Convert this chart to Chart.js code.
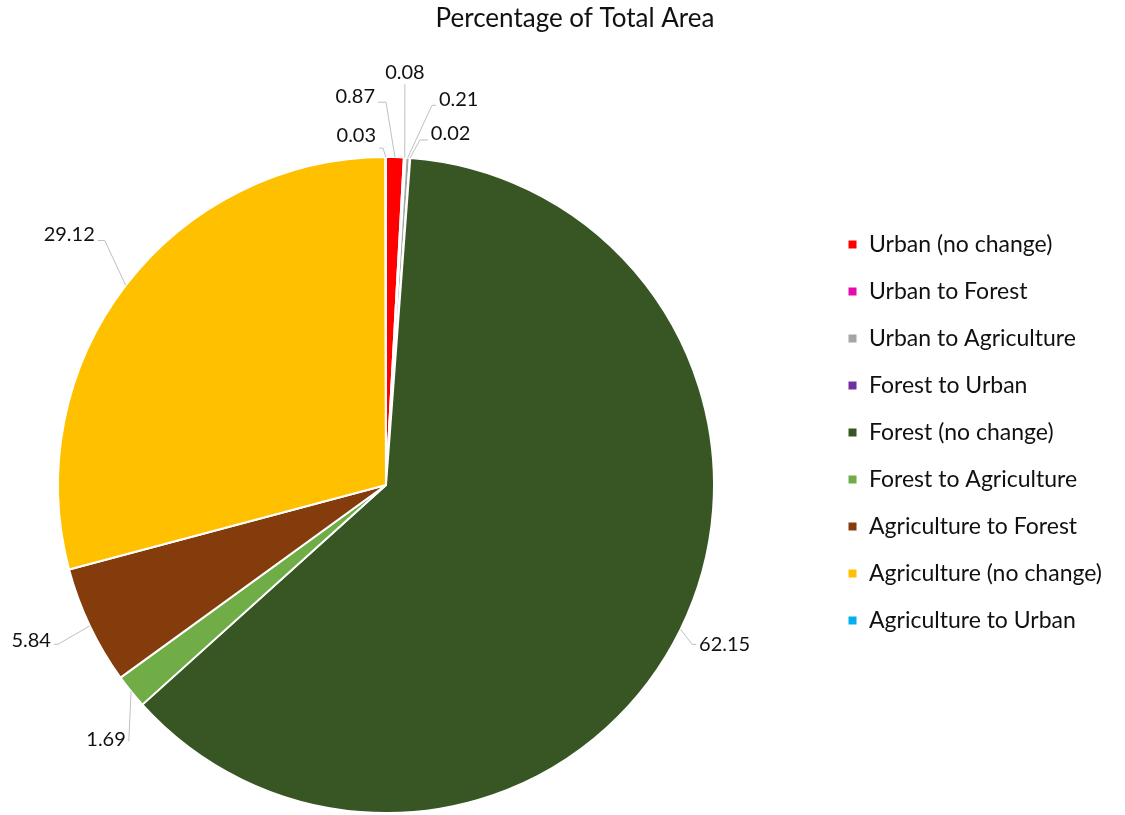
<!DOCTYPE html>
<html>
<head>
<meta charset="utf-8">
<script src="https://cdn.jsdelivr.net/npm/chart.js@4.4.1/dist/chart.umd.min.js"></script>
<style>
  html, body { margin: 0; padding: 0; background: #fff; }
  #wrap { width: 1125px; height: 815px; }
</style>
</head>
<body>
<div id="wrap"><canvas id="areaChart"></canvas></div>
<script>
const categories = [
    'Urban (no change)',
    'Urban to Forest',
    'Urban to Agriculture',
    'Forest to Urban',
    'Forest (no change)',
    'Forest to Agriculture',
    'Agriculture to Forest',
    'Agriculture (no change)',
    'Agriculture to Urban'
];
const percentages = [0.87, 0.08, 0.21, 0.02, 62.15, 1.69, 5.84, 29.12, 0.03];
const sliceColors = ['#ff0000', '#e60aae', '#a5a5a5', '#7030a0', '#375623', '#70ad47', '#843c0c', '#ffc000', '#00b0f0'];

// label spots: angle in degrees clockwise from 12 o'clock, distance as fraction of the radius
const labelSpots = [
    { angle: 0,     dist: 1.167, side: 'left',  stub: 8, dy: -6 },
    { angle: 2.7,   dist: 1.223, side: 'top',   stub: 0, dy: 0 },
    { angle: 6.9,   dist: 1.166, side: 'right', stub: 4, dy: -6 },
    { angle: 5.6,   dist: 1.057, side: 'right', stub: 8, dy: -6 },
    { angle: 117.5, dist: 1.052, side: 'right', stub: 4, dy: 0 },
    { angle: 225.1, dist: 1.107, side: 'left',  stub: 0, dy: -2 },
    { angle: 244.1, dist: 1.112, side: 'left',  stub: 4, dy: -4 },
    { angle: 311,   dist: 1.136, side: 'left',  stub: 7, dy: -6 },
    { angle: 359.5, dist: 1.027, side: 'left',  stub: 4, dy: -13 }
];

// the pie sits in its own square, left of the legend
const pieBox = { left: 57, top: 156, size: 658 };

const placePie = {
    id: 'placePie',
    afterLayout(chart) {
        const a = chart.chartArea;
        a.left = pieBox.left;
        a.top = pieBox.top;
        a.right = pieBox.left + pieBox.size;
        a.bottom = pieBox.top + pieBox.size;
        a.width = pieBox.size;
        a.height = pieBox.size;
    }
};

const valueLabels = {
    id: 'valueLabels',
    afterDatasetsDraw(chart) {
        const ctx = chart.ctx;
        const arcs = chart.getDatasetMeta(0).data;
        ctx.save();
        ctx.font = '20px Lato';
        ctx.strokeStyle = '#bfbfbf';
        ctx.lineWidth = 1;
        ctx.fillStyle = '#111';
        ctx.textBaseline = 'middle';
        arcs.forEach((arc, i) => {
            const { x, y, startAngle, endAngle, outerRadius } =
                arc.getProps(['x', 'y', 'startAngle', 'endAngle', 'outerRadius'], true);
            const spot = labelSpots[i];
            const mid = (startAngle + endAngle) / 2;
            const ax = x + Math.cos(mid) * outerRadius;
            const ay = y + Math.sin(mid) * outerRadius;
            const a = spot.angle * Math.PI / 180 - Math.PI / 2;
            const ex = x + Math.cos(a) * outerRadius * spot.dist;
            const ey = y + Math.sin(a) * outerRadius * spot.dist;
            let tx = ex, ty = ey;

            ctx.beginPath();
            ctx.moveTo(ax, ay);
            ctx.lineTo(ex, ey);
            if (spot.side === 'left') {
                ctx.lineTo(ex - spot.stub, ey);
                tx = ex - spot.stub - 3;
                ctx.textAlign = 'right';
            } else if (spot.side === 'right') {
                ctx.lineTo(ex + spot.stub, ey);
                tx = ex + spot.stub + 3;
                ctx.textAlign = 'left';
            } else {
                ctx.textAlign = 'center';
                ty = ey - 12;
            }
            ctx.stroke();
            ctx.fillText(percentages[i].toFixed(2), tx, ty + spot.dy);
        });
        ctx.restore();
    }
};

new Chart(document.getElementById('areaChart'), {
    type: 'pie',
    data: {
        labels: categories,
        datasets: [{
            data: percentages,
            backgroundColor: sliceColors,
            borderColor: '#ffffff',
            borderWidth: 2,
            clip: false
        }]
    },
    options: {
        responsive: true,
        maintainAspectRatio: false,
        animation: false,
        layout: { padding: { left: 38, right: 13, top: 0, bottom: 0 } },
        plugins: {
            title: {
                display: true,
                text: 'Percentage of Total Area',
                color: '#111',
                font: { family: 'Lato', size: 26, weight: 'normal' },
                padding: { top: 3, bottom: 10 }
            },
            legend: {
                position: 'right',
                // empty legend title only pushes the entries down
                title: {
                    display: true,
                    text: '',
                    font: { size: 10 },
                    padding: { top: 38, bottom: 0 }
                },
                labels: {
                    boxWidth: 10,
                    boxHeight: 10,
                    padding: 24,
                    color: '#111',
                    font: { family: 'Lato', size: 23 }
                }
            },
            tooltip: { enabled: false }
        }
    },
    plugins: [placePie, valueLabels]
});
</script>
</body>
</html>
